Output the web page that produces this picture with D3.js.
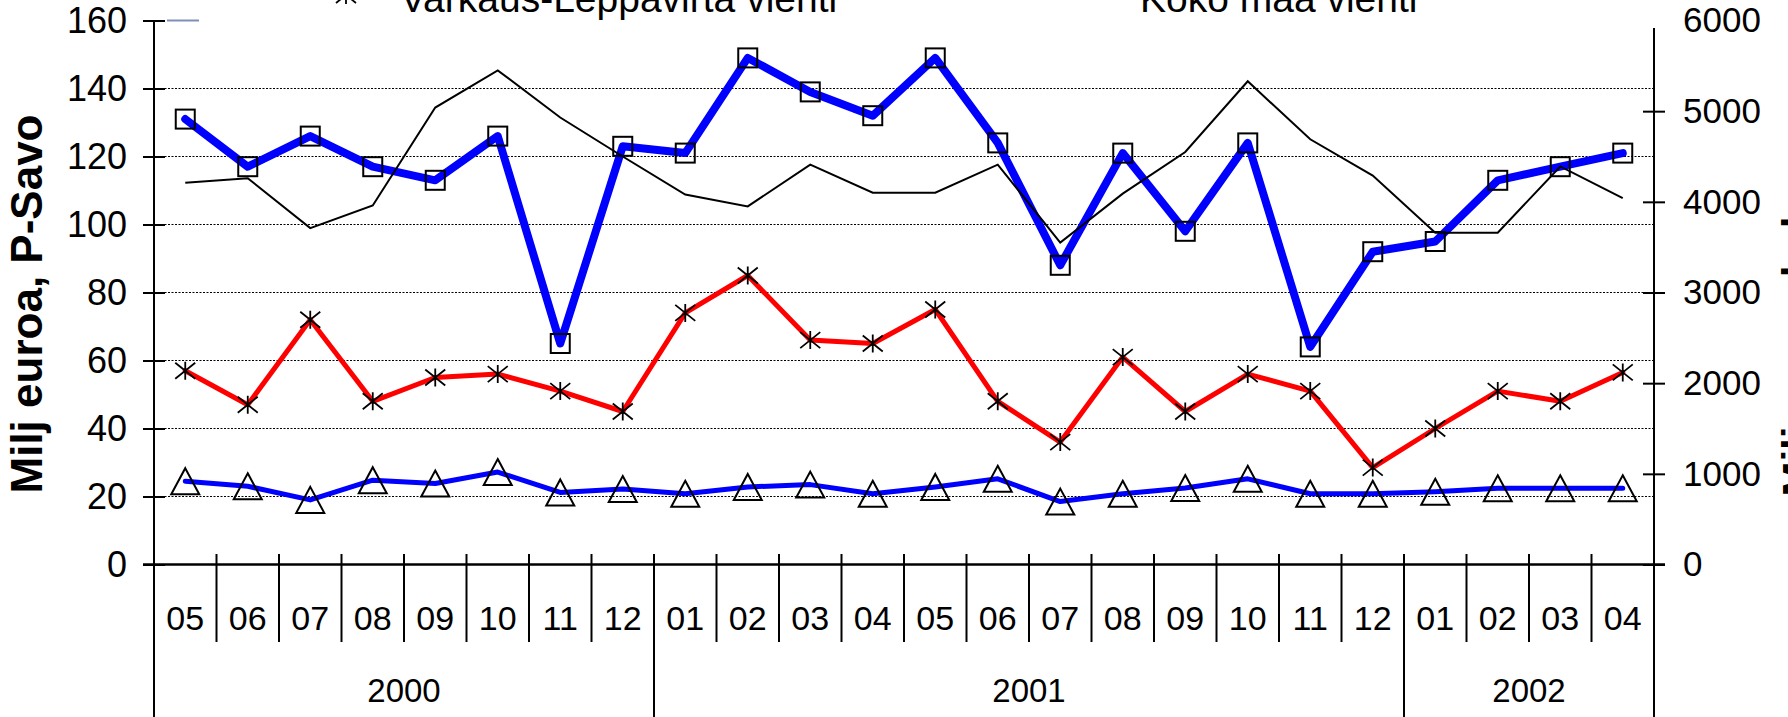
<!DOCTYPE html>
<html>
<head>
<meta charset="UTF-8">
<title></title>
<style>
  body { margin: 0; background: #fff; }
  svg { display: block; font-family: "Liberation Sans", Arial, sans-serif; }
</style>
</head>
<body>
<script src="https://cdn.jsdelivr.net/npm/d3@7/dist/d3.min.js"></script>
<script>
// month labels on the x axis, grouped by year
var months = ["05","06","07","08","09","10","11","12",
              "01","02","03","04","05","06","07","08","09","10","11","12",
              "01","02","03","04"];
var years = ["2000", "2001", "2002"];
var yearSpans = [8, 12, 4];

// left axis series (milj euroa, P-Savo)
var pSavo = [131, 117, 126, 117, 113, 126, 65, 123,
             121, 149, 139, 132, 149, 124, 88, 121, 98, 124, 64, 92,
             95, 113, 117, 121];
var varkausVienti = [57, 47, 72, 48, 55, 56, 51, 45,
                     74, 85, 66, 65, 75, 48, 36, 61, 45, 56, 51, 28.5,
                     40, 51, 48, 56.5];
var triangles = [24.5, 23, 19, 24.8, 23.8, 27.2, 21.2, 22.2,
                 20.8, 22.8, 23.5, 20.8, 22.8, 25.2, 18.5, 20.8, 22.5, 25.2, 20.8, 20.8,
                 21.4, 22.4, 22.4, 22.4];
// right axis series (koko maa vienti)
var kokoMaa = [4210, 4260, 3710, 3960, 5040, 5450, 4930, 4500,
               4080, 3950, 4410, 4100, 4100, 4410, 3550, 4090, 4550, 5330, 4690, 4290,
               3660, 3660, 4390, 4040];

var leftTicks = [0, 20, 40, 60, 80, 100, 120, 140, 160];
var rightTicks = [0, 1000, 2000, 3000, 4000, 5000, 6000];

var W = 1788, H = 717;
var svg = d3.select("body").append("svg").attr("width", W).attr("height", H);

var x = d3.scaleBand().domain(d3.range(months.length)).range([154, 1654]);
var yL = d3.scaleLinear().domain([0, 160]).range([564.5, 20.5]);
var yR = d3.scaleLinear().domain([0, 6000]).range([564.5, 20.5]);
var cx = function(i) { return x(i) + x.bandwidth() / 2; };

// gridlines
svg.append("g").selectAll("line")
  .data(leftTicks.filter(function(d) { return d > 0 && d < 160; }))
  .enter().append("line")
  .attr("x1", 154).attr("x2", 1654)
  .attr("y1", function(d) { return yL(d); })
  .attr("y2", function(d) { return yL(d); })
  .attr("stroke", "#000").attr("stroke-width", 1.2)
  .attr("stroke-dasharray", "2,1.5");

// left axis
var gl = svg.append("g").attr("transform", "translate(154,0)")
  .call(d3.axisLeft(yL).tickValues(leftTicks).tickSize(0).tickPadding(27));
gl.select(".domain").remove();
gl.selectAll("text").attr("font-size", 36).attr("font-family", "Liberation Sans, Arial");
gl.selectAll(".tick line").attr("x1", -11).attr("x2", 11)
  .attr("stroke", "#000").attr("stroke-width", 2);

// right axis
var gr = svg.append("g").attr("transform", "translate(1654,0)")
  .call(d3.axisRight(yR).tickValues(rightTicks).tickFormat(d3.format("d"))
    .tickSize(0).tickPadding(29));
gr.select(".domain").remove();
gr.selectAll("text").attr("font-size", 35).attr("font-family", "Liberation Sans, Arial");
gr.selectAll(".tick line").attr("x1", -11).attr("x2", 11)
  .attr("stroke", "#000").attr("stroke-width", 2);
gr.selectAll(".tick").filter(function(d) { return d === 6000; }).select("line").remove();

// axis lines
svg.append("line").attr("x1", 154).attr("x2", 154).attr("y1", 20.5).attr("y2", H)
  .attr("stroke", "#000").attr("stroke-width", 2);
svg.append("line").attr("x1", 1654).attr("x2", 1654).attr("y1", 28).attr("y2", H)
  .attr("stroke", "#000").attr("stroke-width", 2);
svg.append("line").attr("x1", 143).attr("x2", 1665).attr("y1", yL(0)).attr("y2", yL(0))
  .attr("stroke", "#000").attr("stroke-width", 2.5);

// short line at top left
svg.append("line").attr("x1", 167).attr("x2", 199).attr("y1", 20.5).attr("y2", 20.5)
  .attr("stroke", "#7f8fb8").attr("stroke-width", 2);

// month separators and labels
var yearStarts = [];
var acc = 0;
yearSpans.forEach(function(n) { yearStarts.push(acc); acc += n; });

svg.append("g").selectAll("line")
  .data(d3.range(1, months.length))
  .enter().append("line")
  .attr("x1", function(i) { return x(i); })
  .attr("x2", function(i) { return x(i); })
  .attr("y1", 554)
  .attr("y2", function(i) { return yearStarts.indexOf(i) >= 0 ? H : 642; })
  .attr("stroke", "#000").attr("stroke-width", 2);

svg.append("g").selectAll("text")
  .data(months)
  .enter().append("text")
  .attr("x", function(d, i) { return cx(i); })
  .attr("y", 618)
  .attr("dy", "0.35em")
  .attr("text-anchor", "middle")
  .attr("font-size", 34)
  .text(function(d) { return d; });

svg.append("g").selectAll("text")
  .data(years)
  .enter().append("text")
  .attr("x", function(d, i) {
    return (x(yearStarts[i]) + x(yearStarts[i] + yearSpans[i] - 1) + x.bandwidth()) / 2;
  })
  .attr("y", 690)
  .attr("dy", "0.35em")
  .attr("text-anchor", "middle")
  .attr("font-size", 33)
  .text(function(d) { return d; });

// axis titles
svg.append("text")
  .attr("transform", "translate(42,304) rotate(-90)")
  .attr("text-anchor", "middle")
  .attr("font-size", 44).attr("font-weight", "bold")
  .text("Milj euroa, P-Savo");
svg.append("text")
  .attr("transform", "translate(1812,290) rotate(-90)")
  .attr("text-anchor", "middle")
  .attr("font-size", 42).attr("font-weight", "bold")
  .text("Milj euroa, koko maa");

// lines
function lineL(data) {
  return d3.line().x(function(d, i) { return cx(i); }).y(function(d) { return yL(d); })(data);
}
var lineR = d3.line().x(function(d, i) { return cx(i); }).y(function(d) { return yR(d); });

svg.append("path").attr("d", lineL(triangles))
  .attr("fill", "none").attr("stroke", "#0000ff").attr("stroke-width", 5)
  .attr("stroke-linejoin", "round").attr("stroke-linecap", "round");
svg.append("path").attr("d", lineL(varkausVienti))
  .attr("fill", "none").attr("stroke", "#ff0000").attr("stroke-width", 5)
  .attr("stroke-linejoin", "round").attr("stroke-linecap", "round");
svg.append("path").attr("d", lineL(pSavo))
  .attr("fill", "none").attr("stroke", "#0000ff").attr("stroke-width", 8)
  .attr("stroke-linejoin", "round").attr("stroke-linecap", "round");
svg.append("path").attr("d", lineR(kokoMaa))
  .attr("fill", "none").attr("stroke", "#000").attr("stroke-width", 2);

// markers
svg.append("g").selectAll("rect")
  .data(pSavo).enter().append("rect")
  .attr("x", function(d, i) { return cx(i) - 9.5; })
  .attr("y", function(d) { return yL(d) - 9.5; })
  .attr("width", 19).attr("height", 19)
  .attr("fill", "none").attr("stroke", "#000").attr("stroke-width", 2);

svg.append("g").selectAll("path")
  .data(triangles).enter().append("path")
  .attr("transform", function(d, i) { return "translate(" + cx(i) + "," + yL(d) + ")"; })
  .attr("d", "M0,-13L14,13L-14,13Z")
  .attr("fill", "none").attr("stroke", "#000").attr("stroke-width", 2);

var starPath = "M0,-9V9M-10,-8L10,8M-10,8L10,-8";
svg.append("g").selectAll("path")
  .data(varkausVienti).enter().append("path")
  .attr("transform", function(d, i) { return "translate(" + cx(i) + "," + yL(d) + ")"; })
  .attr("d", starPath)
  .attr("fill", "none").attr("stroke", "#000").attr("stroke-width", 1.8);

// legend (top row is cut off by the edge)
svg.append("line").attr("x1", 300).attr("x2", 392).attr("y1", -4).attr("y2", -4)
  .attr("stroke", "#ff0000").attr("stroke-width", 5);
svg.append("path").attr("transform", "translate(346,-5)").attr("d", starPath)
  .attr("fill", "none").attr("stroke", "#000").attr("stroke-width", 1.8);
svg.append("text").attr("x", 400).attr("y", 12).attr("font-size", 39)
  .text("Varkaus-Leppävirta vienti");
svg.append("line").attr("x1", 1040).attr("x2", 1130).attr("y1", -4).attr("y2", -4)
  .attr("stroke", "#000").attr("stroke-width", 2);
svg.append("text").attr("x", 1140).attr("y", 12).attr("font-size", 39)
  .text("Koko maa vienti");
</script>
</body>
</html>
